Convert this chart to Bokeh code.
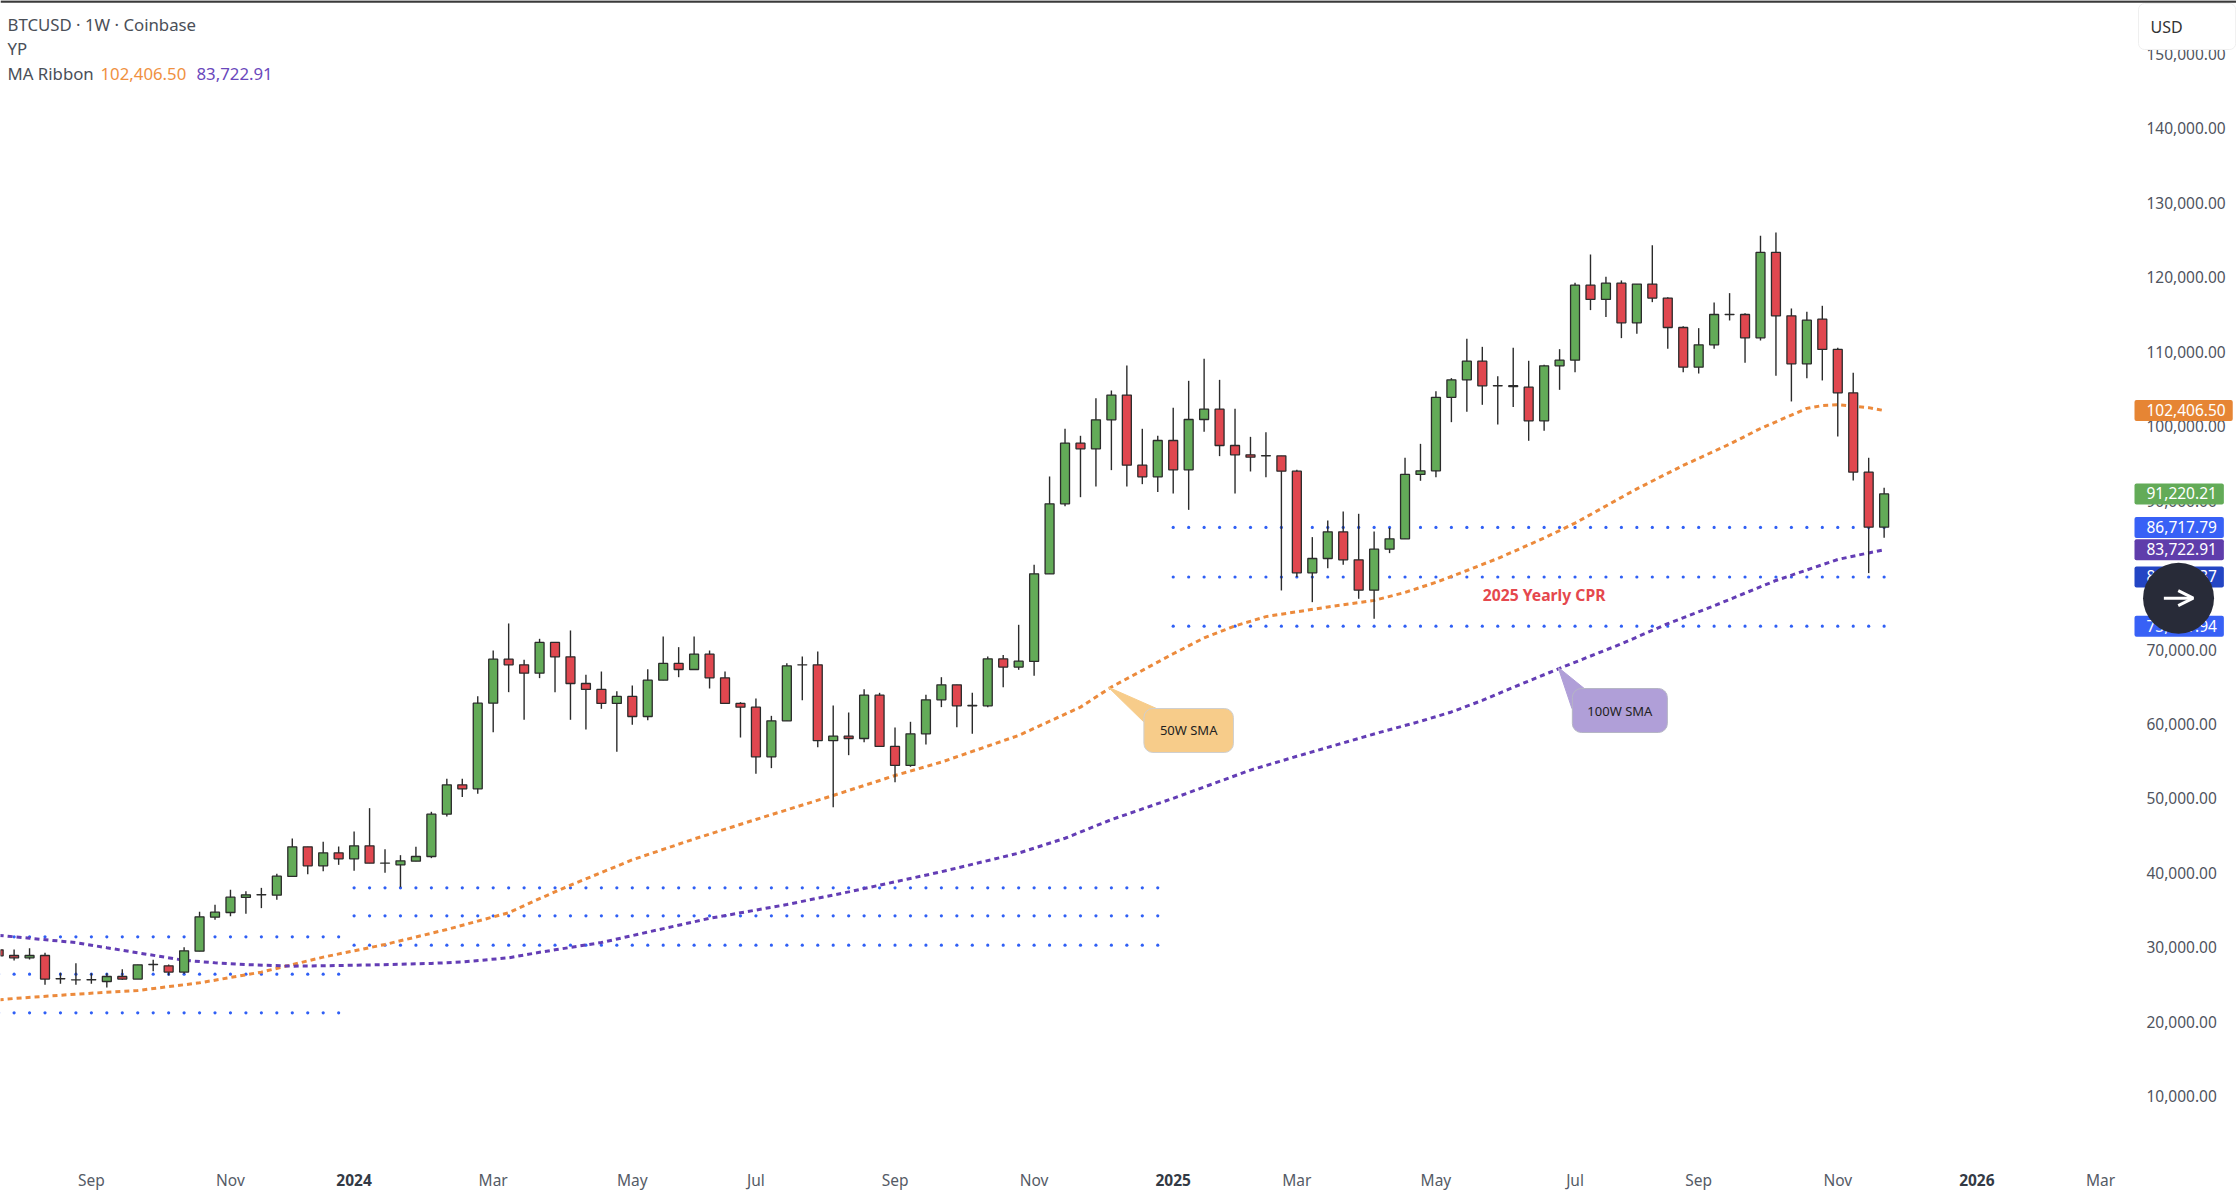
from bokeh.embed import file_html
from bokeh.models import Arrow, FixedTicker, Label, OpenHead, Range1d, Span
from bokeh.plotting import figure
from bokeh.resources import INLINE

# weekly bars, index 0 = 2023-07-31
weeks = list(range(-1, 122))
opens = [30020, 29260, 28950, 29260, 26130, 26000, 26000, 25770, 26440, 26090, 28040, 27880, 27030, 29840, 34410,
         35030, 37050, 37400, 37360, 39870, 43850, 41300, 43040, 42240, 43980, 41660, 41430, 41920, 42550, 48230,
         52170, 51630, 63130, 69040, 68280, 67160, 71280, 69350, 65770, 64970, 63090, 64030, 61340, 66220, 68460,
         67650, 69710, 66530, 63090, 62600, 55930, 60760, 68280, 68280, 58100, 58700, 58390, 64210, 57320, 54770,
         59020, 63580, 65590, 62780, 62780, 69080, 67970, 68730, 80490, 89890, 98030, 97270, 101170, 104480, 95080,
         93510, 98390, 94450, 101210, 102600, 97720, 96470, 96330, 96330, 94270, 80630, 82550, 86130, 82370, 78300,
         83800, 85190, 93830, 94320, 104180, 106530, 109040, 105730, 105750, 105550, 101030, 108410, 109170, 119240,
         117320, 119510, 114190, 119380, 117500, 113560, 108230, 111230, 115300, 115300, 112170, 123630, 115120,
         108680, 114680, 110610, 104790, 94140, 86760]
highs = [30380, 30070, 30250, 29620, 26940, 28230, 26890, 26890, 27430, 28010, 28680, 28050, 30380, 35120, 36060,
         38080, 37900, 38340, 40220, 44970, 43850, 44520, 43890, 45900, 49040, 43530, 42730, 43850, 48550, 52980,
         52980, 64070, 70200, 73830, 68950, 71770, 71280, 72890, 66940, 67380, 64740, 65500, 67700, 72080, 70650,
         72080, 70200, 67380, 63270, 63760, 61430, 68500, 69400, 70070, 62820, 61880, 65010, 64520, 59870, 60630,
         64250, 66620, 65590, 64520, 69400, 69580, 73650, 81700, 93560, 99960, 99020, 104070, 105100, 108460, 99960,
         99020, 102770, 106400, 109350, 106530, 102640, 98880, 99510, 96330, 94450, 85420, 87650, 88860, 88550, 86180,
         86670, 96060, 97940, 105010, 106760, 112040, 110960, 107030, 110830, 109090, 108550, 110650, 119550, 123360,
         120360, 119870, 119380, 124610, 117630, 113740, 113470, 116910, 118170, 115480, 125860, 126310, 116110,
         115660, 116470, 110830, 107470, 96070, 92040]
lows = [29040, 28590, 28720, 25330, 25460, 25330, 25460, 24970, 26000, 26090, 27160, 26580, 26800, 29840, 34050,
        34540, 34860, 35620, 36730, 39870, 40180, 40580, 41430, 40630, 41660, 40360, 38430, 41920, 42330, 47920,
        50520, 50960, 59240, 64610, 60900, 66490, 64610, 60900, 59600, 62370, 56600, 60220, 60850, 66220, 66620,
        67650, 65100, 63090, 58520, 53650, 54410, 60760, 63530, 57230, 49170, 56150, 57900, 57320, 52530, 54590,
        57590, 62600, 59910, 59020, 62600, 65280, 67610, 66800, 80490, 89580, 90780, 92220, 94410, 92220, 92530,
        91460, 91280, 89080, 99550, 96290, 91280, 94230, 93470, 78260, 80050, 76690, 81250, 81700, 77140, 74450,
        83270, 85190, 92980, 93470, 100850, 102240, 103180, 100540, 102870, 98350, 99690, 105190, 107560, 115890,
        114950, 112130, 112710, 116960, 110700, 107560, 107380, 110700, 114500, 108820, 111810, 107070, 103630,
        106760, 106450, 98930, 93020, 80590, 85330]
closes = [29220, 28950, 29260, 26090, 26150, 25990, 26020, 26440, 26090, 28010, 28060, 27030, 29890, 34450, 35080,
          37090, 37400, 37420, 39910, 43850, 41300, 43040, 42240, 43980, 41660, 41670, 41970, 42550, 48230, 52170,
          51630, 63130, 69040, 68280, 67160, 71280, 69350, 65770, 64970, 63090, 64030, 61340, 66220, 68460, 67650,
          69710, 66530, 63090, 62600, 55930, 60760, 68140, 68270, 58100, 58700, 58390, 64210, 57320, 54770, 59020,
          63580, 65590, 62780, 62830, 69080, 67970, 68770, 80490, 89890, 98030, 97270, 101170, 104480, 95080, 93510,
          98390, 94450, 101210, 102600, 97720, 96470, 96150, 96340, 94270, 80630, 82550, 86130, 82370, 78300, 83800,
          85190, 93830, 94320, 104180, 106530, 109040, 105730, 105750, 105640, 101030, 108410, 109170, 119240, 117320,
          119510, 114190, 119380, 117500, 113560, 108230, 111230, 115300, 115320, 112170, 123630, 115120, 108680,
          114540, 110610, 104790, 94140, 86760, 91220.21]

sma50_weeks = [-1, 0, 4, 8, 12, 16, 20, 24, 28, 30, 32, 34, 36, 40, 44, 48, 53, 57, 60, 65, 69, 71, 75, 77, 79, 81,
               83, 85, 88, 90, 92, 94, 96, 99, 101, 105, 108, 111, 113, 116, 117, 118, 120, 121]
sma50 = [23310, 23490, 24070, 24570, 25590, 27030, 29040, 30740, 32750, 33880, 35000, 36900, 38700, 42100, 44900,
         47520, 50740, 53420, 55220, 58800, 62600, 65300, 69760, 71900, 73500, 74750, 75400, 76040, 76930, 78000,
         79350, 80940, 82560, 85300, 87300, 91900, 95040, 97900, 100000, 102700, 103080, 103180, 102800, 102406.50]
sma100_weeks = [-1, 1, 4, 6, 8, 11, 13, 15, 18, 20, 22, 25, 27, 29, 32, 34, 35, 38, 41, 45, 50, 54, 60, 65, 68, 71,
                75, 80, 83, 86, 88, 91, 93, 95, 97, 100, 104, 107, 110, 114, 118, 120, 121]
sma100 = [31970, 31580, 30990, 30300, 29620, 28620, 28280, 28040, 27830, 27880, 27950, 28080, 28200, 28390, 28950,
          29690, 30020, 31000, 32400, 34250, 36100, 37800, 40500, 43000, 45000, 47500, 50360, 54150, 56000, 57800,
          59000, 60700, 61950, 63500, 65250, 67800, 71100, 73800, 76200, 79600, 82420, 83300, 83722.91]

# yearly pivot rows: first week, last week, levels
cpr_2023 = (-1, 21, [31770, 26760, 21570])
cpr_2024 = (22, 74, [38340, 34590, 30650])
cpr_2025 = (75, 121, [86717.79, 80067.37, 73461.94])

month_ticks = [5, 14, 31, 40, 48, 57, 66, 83, 92, 101, 109, 118, 135]
month_labels = ["Sep", "Nov", "Mar", "May", "Jul", "Sep", "Nov", "Mar", "May", "Jul", "Sep", "Nov", "Mar"]
year_ticks = [22, 75, 127]
year_labels = ["2024", "2025", "2026"]
price_ticks = list(range(10000, 160000, 10000))

tag_values = [102406.50, 91220.21, 86717.79, 83722.91, 80067.37, 73461.94]
tag_labels = ["102,406.50", "91,220.21", "86,717.79", "83,722.91", "80,067.37", "73,461.94"]
tag_colors = ["#E68534", "#63AB58", "#3861F6", "#5F3DAB", "#2345C4", "#3861F6"]

GREEN = "#63AB58"
RED = "#E0474F"
ORANGE = "#EC8A3C"
PURPLE = "#633DB5"
BLUE = "#2F5FF5"
FONT = "Noto Sans"

p = figure(width=2236, height=1198, output_backend="svg", toolbar_location=None, y_axis_location="right",
           x_range=(-0.88, 143.8), y_range=(-3357, 157450), min_border=0, outline_line_color=None)
p.grid.visible = False

# month axis, the bold years get a second one on the same line
p.xaxis.fixed_location = 660
p.xaxis.ticker = FixedTicker(ticks=month_ticks)
p.xaxis.major_label_overrides = dict(zip(month_ticks, month_labels))
year_axis = p.xaxis[0].clone()
year_axis.fixed_location = -10
year_axis.ticker = FixedTicker(ticks=year_ticks)
year_axis.major_label_overrides = dict(zip(year_ticks, year_labels))
year_axis.major_label_text_font_style = "bold"
year_axis.major_label_text_color = "#333a45"
p.add_layout(year_axis, "below")
for ax in [p.xaxis[0], year_axis, p.yaxis[0]]:
    ax.axis_line_color = None
    ax.major_tick_line_color = None
    ax.minor_tick_line_color = None
    ax.major_tick_in = 0
    ax.major_tick_out = 0
    ax.major_label_text_font = FONT
    ax.major_label_text_font_size = "15.5px"
p.xaxis[0].major_label_text_color = "#555b66"
p.xaxis[0].major_label_standoff = 0
year_axis.major_label_standoff = 0
# the scale's numbers sit a little above their price level
p.extra_y_ranges["scale"] = Range1d(-3357 - 335, 157450 - 335)
p.yaxis[0].y_range_name = "scale"
p.yaxis.fixed_location = 137.2
p.yaxis.ticker = FixedTicker(ticks=price_ticks)
p.yaxis.major_label_overrides = {v: f"{v:,.2f}" for v in price_ticks}
p.yaxis.major_label_text_color = "#4f545e"
p.yaxis.major_label_standoff = 12

for first, last, levels in [cpr_2023, cpr_2024, cpr_2025]:
    for level in levels:
        xs = list(range(first, last + 1))
        p.scatter(xs, [level] * len(xs), marker="circle", size=3.2, color=BLUE, line_width=0)

p.line(sma50_weeks, sma50, line_color=ORANGE, line_width=3, line_dash=[5, 4])
p.line(sma100_weeks, sma100, line_color=PURPLE, line_width=3, line_dash=[5, 4])

colors = [GREEN if c >= o else RED for o, c in zip(opens, closes)]
p.segment(weeks, highs, weeks, lows, line_color="#2b2b2b", line_width=1.4)
p.vbar(x=weeks, width=0.58, top=[max(o, c) for o, c in zip(opens, closes)],
       bottom=[min(o, c) for o, c in zip(opens, closes)], fill_color=colors, line_color="#2b2b2b", line_width=1.3)

# callouts on the two averages
p.patch([70.8, 73.92, 74.3, 73.14], [65275, 62416, 60134, 60536], fill_color="#F7CC8A", line_color="#F7CC8A")
p.patch([99.9, 101.6, 102, 100.8], [67960, 65100, 62146, 62416], fill_color="#B09FD8", line_color="#B09FD8")
p.add_layout(Label(x=76.0, y=59463, text="50W SMA", text_font=FONT, text_font_size="13px", text_color="#222222",
                   text_align="center", text_baseline="middle", background_fill_color="#F7CC8A",
                   border_line_color="#cfcfcf", border_radius=9, padding=(16, 16, 13, 13)))
p.add_layout(Label(x=103.9, y=62147, text="100W SMA", text_font=FONT, text_font_size="13px", text_color="#222222",
                   text_align="center", text_baseline="middle", background_fill_color="#B09FD8",
                   border_line_color="#b5b5c5", border_radius=9, padding=(15, 15, 13, 13)))
p.add_layout(Label(x=99, y=77700, text="2025 Yearly CPR", text_font=FONT, text_font_size="15.7px",
                   text_font_style="bold", text_color="#E5484D", text_align="center", text_baseline="middle"))

# price tags on the scale
for value, text, color in zip(tag_values, tag_labels, tag_colors):
    p.add_layout(Label(x=137.2, y=value, text=text, text_font=FONT, text_font_size="15.5px", text_color="#ffffff",
                       text_align="left", text_baseline="middle", background_fill_color=color, border_radius=2,
                       padding=(12, 7, 4, 5)))

p.scatter([140.05], [77222], marker="circle", size=71, color="#282b38", line_width=0, level="overlay")
p.add_layout(Arrow(end=OpenHead(size=15, line_color="#ffffff", line_width=3), x_start=139.1, y_start=77222,
                   x_end=141, y_end=77222, line_color="#ffffff", line_width=3, level="overlay"))

# header
header = [("BTCUSD · 1W · Coinbase", 7, 24, "#4a4f58"), ("YP", 7, 48, "#4a4f58"), ("MA Ribbon", 7, 73, "#4a4f58"),
          ("102,406.50", 100, 73, "#F0913F"), ("83,722.91", 196, 73, "#6A48BC")]
for text, sx, sy, color in header:
    p.add_layout(Label(x=sx, y=1198 - sy, x_units="screen", y_units="screen", text=text, text_font=FONT,
                       text_font_size="16.8px", text_color=color, text_baseline="middle"))
p.add_layout(Label(x=2138, y=1198 - 26, x_units="screen", y_units="screen", text="USD", text_font=FONT,
                   text_font_size="16px", text_color="#333333", text_baseline="middle",
                   background_fill_color="#ffffff", border_line_color="#efefef", border_radius=6,
                   padding=(12, 53, 12, 12)))
p.add_layout(Span(location=157300, dimension="width", line_color="#3a3a3a", line_width=2.5))

open("out.html", "w").write(file_html(p, INLINE))
